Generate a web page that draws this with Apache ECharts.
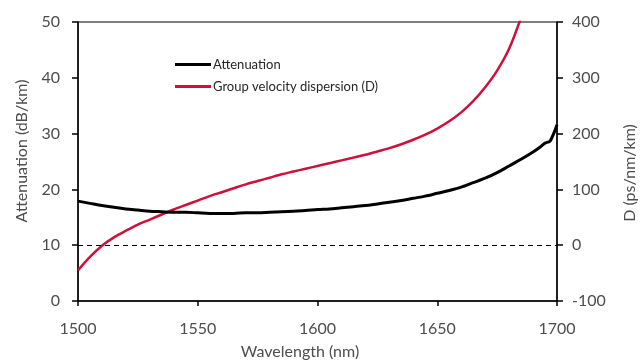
<!DOCTYPE html>
<html>
<head>
<meta charset="utf-8">
<script src="https://cdn.jsdelivr.net/npm/echarts@6/dist/echarts.min.js"></script>
<style>html,body{margin:0;padding:0;background:#fff}#c{width:641px;height:364px}</style>
</head>
<body>
<div id="c"></div>
<script>
var wavelength = [1500,1505,1510,1515,1520,1525,1530,1535,1540,1545,1550,1555,1560,1565,1570,1575,1580,1585,1590,1595,1600,1605,1610,1615,1620,1625,1630,1635,1640,1645,1650,1655,1660,1665,1670,1675,1680,1685,1690,1693,1695,1697,1698,1699,1700];
var attenuation = [17.9,17.5,17.1,16.8,16.5,16.3,16.1,16.0,15.9,15.9,15.8,15.7,15.7,15.7,15.8,15.8,15.9,16.0,16.1,16.2,16.4,16.5,16.7,16.9,17.1,17.4,17.7,18.0,18.4,18.8,19.3,19.8,20.4,21.2,22.0,23.0,24.2,25.4,26.7,27.6,28.3,28.6,29.4,30.4,31.6];
var dispWavelength = [1500,1505,1510,1515,1520,1525,1530,1535,1540,1545,1550,1555,1560,1565,1570,1575,1580,1585,1590,1595,1600,1605,1610,1615,1620,1625,1630,1635,1640,1645,1650,1655,1660,1665,1670,1675,1680,1685];
var dispersion = [-45,-21,-1,14,26,37,46,55,64,72,80,88,95,102,109,115,121,127,132,137,142,147,152,157,162,168,174,181,189,198,209,222,238,258,283,313,352,408];
var xTicks = {min:1500, max:1700, interval:50};
var leftTicks = {min:0, max:50, interval:10};
var rightTicks = {min:-100, max:400, interval:100};
var seriesNames = ['Attenuation','Group velocity dispersion (D)'];

var FONT = 'Lato';
var chart = echarts.init(document.getElementById('c'), null, {renderer:'canvas'});
function pairs(xs, ys){ return xs.map(function(x,i){return [x, ys[i]];}); }
function plain(v){ return String(v); }
chart.setOption({
  animation:false,
  backgroundColor:'#fff',
  grid:{left:78, right:84, top:22, bottom:63, show:true, borderColor:'#000', borderWidth:1, backgroundColor:'transparent'},
  legend:{
    orient:'vertical', left:170, top:53, itemWidth:36, itemHeight:3, itemGap:9,
    icon:'rect', data:seriesNames,
    textStyle:{fontFamily:FONT, fontSize:13, color:'#262626', padding:[0,0,0,-3]}
  },
  xAxis:{
    type:'value', min:xTicks.min, max:xTicks.max, interval:xTicks.interval,
    axisLine:{show:true, lineStyle:{color:'#000', width:1.5}},
    axisTick:{show:true, length:5, lineStyle:{color:'#000', width:1.5}},
    axisLabel:{fontFamily:FONT, fontSize:16, color:'#4d4d4d', margin:20, formatter:plain},
    splitLine:{show:false}
  },
  yAxis:[{
    type:'value', min:leftTicks.min, max:leftTicks.max, interval:leftTicks.interval,
    axisLine:{show:true, lineStyle:{color:'#000', width:1.5}},
    axisTick:{show:true, length:6, lineStyle:{color:'#000', width:1.5}},
    axisLabel:{fontFamily:FONT, fontSize:16, color:'#4d4d4d', margin:18, formatter:plain},
    splitLine:{show:false}
  },{
    type:'value', position:'right', min:rightTicks.min, max:rightTicks.max, interval:rightTicks.interval,
    axisLine:{show:true, lineStyle:{color:'#000', width:1.5}},
    axisTick:{show:true, length:6, lineStyle:{color:'#000', width:1.5}},
    axisLabel:{fontFamily:FONT, fontSize:16, color:'#4d4d4d', margin:15, formatter:plain},
    splitLine:{show:false}
  }],
  graphic:[
    {type:'text', x:22, y:151, rotation:Math.PI/2, style:{text:'Attenuation (dB/km)', fontFamily:FONT, fontSize:16, fill:'#4d4d4d', textAlign:'center', textVerticalAlign:'middle'}},
    {type:'text', x:630, y:173, rotation:Math.PI/2, style:{text:'D (ps/nm/km)', fontFamily:FONT, fontSize:16, fill:'#4d4d4d', textAlign:'center', textVerticalAlign:'middle'}},
    {type:'text', x:300, y:352, style:{text:'Wavelength (nm)', fontFamily:FONT, fontSize:16, fill:'#4d4d4d', textAlign:'center', textVerticalAlign:'middle'}}
  ],
  series:[{
    name:seriesNames[0], type:'line', yAxisIndex:0, data:pairs(wavelength, attenuation),
    showSymbol:false, smooth:0.3, clip:true,
    lineStyle:{color:'#000', width:3}, itemStyle:{color:'#000'}, z:3
  },{
    name:seriesNames[1], type:'line', yAxisIndex:1, data:pairs(dispWavelength, dispersion),
    showSymbol:false, smooth:0.3, clip:true,
    lineStyle:{color:'#d0103a', width:2.5}, itemStyle:{color:'#d0103a'}, z:2,
    markLine:{silent:true, symbol:'none', label:{show:false},
      lineStyle:{color:'#000', type:[5,4], width:1},
      data:[{yAxis:0}]}
  }]
});
</script>
</body>
</html>
